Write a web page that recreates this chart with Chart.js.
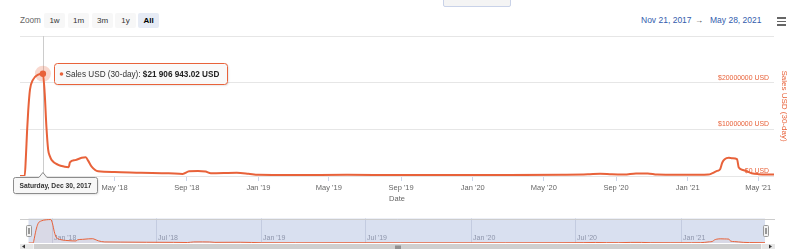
<!DOCTYPE html>
<html>
<head>
<meta charset="utf-8">
<script src="https://cdn.jsdelivr.net/npm/chart.js@4.4.0/dist/chart.umd.min.js"></script>
<style>
  html, body { margin: 0; padding: 0; background: #fff; }
  body { width: 800px; height: 249px; position: relative; overflow: hidden; font-family: "Liberation Sans", Arial, sans-serif; }
  #main { position: absolute; left: 0; top: 0; }
  #nav { position: absolute; left: 0; top: 210px; }
  .zoom-label { position: absolute; left: 20px; top: 13px; height: 15px; line-height: 15px; font-size: 8.2px; color: #666; }
  .btn { position: absolute; top: 13px; height: 15px; line-height: 15px; background: #f7f7f7; color: #333; font-size: 8px; text-align: center; border-radius: 2px; }
  .btn.on { background: #e6ebf5; font-weight: bold; color: #000; }
  .range { position: absolute; top: 14px; height: 13px; line-height: 13px; font-size: 8.5px; color: #335cad; }
  .arrow { position: absolute; top: 14px; height: 13px; line-height: 13px; font-size: 8px; color: #333; }
  .menu { position: absolute; left: 777px; width: 9px; height: 1.5px; background: #666; }
  .topbox { position: absolute; left: 443px; top: -3px; width: 66px; height: 8px; background: #f4f4f4; border: 1px solid #c9d2e8; border-radius: 2px; }
</style>
</head>
<body>
<div class="topbox"></div>
<div class="zoom-label">Zoom</div>
<div class="btn" style="left:44px;width:21px">1w</div>
<div class="btn" style="left:68px;width:21px">1m</div>
<div class="btn" style="left:92px;width:21px">3m</div>
<div class="btn" style="left:115px;width:21px">1y</div>
<div class="btn on" style="left:138px;width:21px">All</div>
<div class="range" style="left:641px">Nov 21, 2017</div>
<div class="arrow" style="left:695px">→</div>
<div class="range" style="left:710px">May 28, 2021</div>
<div class="menu" style="top:17px"></div>
<div class="menu" style="top:20.5px"></div>
<div class="menu" style="top:24px"></div>
<canvas id="main" width="800" height="210"></canvas>
<canvas id="nav" width="800" height="39"></canvas>
<script>
// series: 30-day sales in USD
const dates = [
  '2017-11-21', '2017-11-29', '2017-12-01', '2017-12-03', '2017-12-05', '2017-12-08',
  '2017-12-13', '2017-12-22', '2017-12-30', '2018-01-02', '2018-01-05', '2018-01-08',
  '2018-01-11', '2018-01-14', '2018-01-25', '2018-02-05', '2018-02-12', '2018-02-14',
  '2018-02-23', '2018-03-06', '2018-03-13', '2018-03-17', '2018-03-23', '2018-04-03',
  '2018-05-01', '2018-06-15', '2018-08-01', '2018-08-25', '2018-09-05', '2018-09-20',
  '2018-10-03', '2018-10-12', '2018-11-25', '2018-12-15', '2019-01-01', '2019-03-01',
  '2019-06-01', '2019-09-01', '2019-12-01', '2020-03-01', '2020-06-01', '2020-07-15',
  '2020-08-05', '2020-08-25', '2020-09-15', '2020-10-05', '2020-10-25', '2020-11-10',
  '2020-12-15', '2021-01-20', '2021-02-05', '2021-02-12', '2021-02-20', '2021-02-25',
  '2021-03-01', '2021-03-05', '2021-03-12', '2021-03-18', '2021-03-26', '2021-03-29',
  '2021-04-05', '2021-04-12', '2021-04-20', '2021-05-01', '2021-05-28'
];
const sales = [
  0, 0, 4000000, 9500000, 14000000, 18500000,
  20600000, 21700000, 21906943.02, 17800000, 10500000, 5600000,
  4200000, 3400000, 2400000, 2000000, 1900000, 2900000,
  3400000, 3900000, 4000000, 3300000, 2000000, 1000000,
  850000, 700000, 600000, 450000, 1000000, 1050000,
  950000, 600000, 700000, 500000, 250000, 200000,
  250000, 200000, 200000, 200000, 250000, 350000,
  500000, 350000, 300000, 550000, 550000, 300000,
  250000, 250000, 300000, 600000, 1100000, 1400000,
  2900000, 3600000, 3900000, 3800000, 3600000, 1800000,
  1300000, 1000000, 600000, 400000, 300000
];

// axis ticks
const xTickDates = ['2018-05-01', '2018-09-01', '2019-01-01', '2019-05-01', '2019-09-01',
  '2020-01-01', '2020-05-01', '2020-09-01', '2021-01-01', '2021-05-01'];
const xTickLabels = ["May '18", "Sep '18", "Jan '19", "May '19", "Sep '19",
  "Jan '20", "May '20", "Sep '20", "Jan '21", "May '21"];
const yTicks = [0, 10000000, 20000000, 30000000];
const yTickLabels = ['$0 USD', '$10000000 USD', '$20000000 USD', ''];
const navTickDates = ['2018-01-01', '2018-07-01', '2019-01-01', '2019-07-01', '2020-01-01', '2020-07-01', '2021-01-01'];
const navTickLabels = ["Jan '18", "Jul '18", "Jan '19", "Jul '19", "Jan '20", "Jul '20", "Jan '21"];

const startDate = '2017-11-21';
const endDate = '2021-05-28';
const hoverDate = '2017-12-30';
const hoverLabel = 'Saturday, Dec 30, 2017';
const seriesName = 'Sales USD (30-day)';
const hoverValueText = '$21 906 943.02 USD';

const ORANGE = '#e8623a';
const FONT = '"Liberation Sans", Arial, sans-serif';
Chart.defaults.font.family = FONT;

const t = d => Date.parse(d + 'T00:00:00Z');
const points = dates.map((d, i) => ({ x: t(d), y: sales[i] }));

function roundRect(ctx, x, y, w, h, r) {
  ctx.beginPath();
  ctx.moveTo(x + r, y);
  ctx.lineTo(x + w - r, y);
  ctx.arcTo(x + w, y, x + w, y + r, r);
  ctx.lineTo(x + w, y + h - r);
  ctx.arcTo(x + w, y + h, x + w - r, y + h, r);
  ctx.lineTo(x + r, y + h);
  ctx.arcTo(x, y + h, x, y + h - r, r);
  ctx.lineTo(x, y + r);
  ctx.arcTo(x, y, x + r, y, r);
  ctx.closePath();
}

// crosshair + tooltip for the hovered day
const hoverPlugin = {
  id: 'hover',
  beforeDatasetsDraw(chart) {
    const { ctx, chartArea, scales: { x } } = chart;
    const px = Math.round(x.getPixelForValue(t(hoverDate))) + 0.5;
    ctx.save();
    ctx.strokeStyle = '#cccccc';
    ctx.lineWidth = 1;
    ctx.beginPath();
    ctx.moveTo(px, chartArea.top);
    ctx.lineTo(px, chartArea.bottom);
    ctx.stroke();
    ctx.restore();
  },
  afterDraw(chart) {
    const { ctx, chartArea, scales: { x, y } } = chart;
    const idx = dates.indexOf(hoverDate);
    const px = x.getPixelForValue(t(hoverDate));
    const py = y.getPixelForValue(sales[idx]);
    ctx.save();

    // halo + marker
    ctx.fillStyle = 'rgba(232,98,58,0.25)';
    ctx.beginPath(); ctx.arc(px, py, 8, 0, Math.PI * 2); ctx.fill();
    ctx.fillStyle = ORANGE;
    ctx.beginPath(); ctx.arc(px, py, 3.2, 0, Math.PI * 2); ctx.fill();

    // value tooltip
    const fontReg = '8.2px ' + FONT;
    const fontBold = 'bold 8.2px ' + FONT;
    ctx.font = fontReg;
    const w1 = ctx.measureText(seriesName + ': ').width;
    ctx.font = fontBold;
    const w2 = ctx.measureText(hoverValueText).width;
    const bx = Math.round(px + 11) + 0.5;
    const by = Math.round(py - 11) + 0.5;
    const bw = Math.round(11 + w1 + w2 + 8);
    const bh = 21;
    ctx.shadowColor = 'rgba(0,0,0,0.15)';
    ctx.shadowOffsetX = 1;
    ctx.shadowOffsetY = 1;
    ctx.shadowBlur = 2;
    roundRect(ctx, bx, by, bw, bh, 3);
    ctx.fillStyle = 'rgba(250,250,250,0.95)';
    ctx.fill();
    ctx.shadowColor = 'transparent';
    ctx.strokeStyle = ORANGE;
    ctx.lineWidth = 1;
    ctx.stroke();
    ctx.fillStyle = ORANGE;
    ctx.beginPath(); ctx.arc(bx + 7, by + bh / 2, 1.8, 0, Math.PI * 2); ctx.fill();
    ctx.textBaseline = 'middle';
    ctx.textAlign = 'left';
    ctx.fillStyle = '#333';
    ctx.font = fontReg;
    ctx.fillText(seriesName + ': ', bx + 11, by + bh / 2 + 0.5);
    ctx.font = fontBold;
    ctx.fillStyle = '#222';
    ctx.fillText(hoverValueText, bx + 11 + w1, by + bh / 2 + 0.5);

    // date label under the axis
    const fontDate = 'bold 6.7px ' + FONT;
    ctx.font = fontDate;
    const dw = Math.round(ctx.measureText(hoverLabel).width + 12);
    const dh = 16;
    const dx = Math.max(13, Math.round(px - dw / 2)) + 0.5;
    const dy = Math.round(chartArea.bottom) + 1.5;
    ctx.shadowColor = 'rgba(0,0,0,0.15)';
    ctx.shadowOffsetX = 1;
    ctx.shadowOffsetY = 1;
    ctx.shadowBlur = 2;
    ctx.beginPath();
    ctx.moveTo(dx + 2, dy);
    ctx.lineTo(px - 4, dy);
    ctx.lineTo(px, dy - 5);
    ctx.lineTo(px + 4, dy);
    ctx.lineTo(dx + dw - 2, dy);
    ctx.arcTo(dx + dw, dy, dx + dw, dy + 2, 2);
    ctx.lineTo(dx + dw, dy + dh - 2);
    ctx.arcTo(dx + dw, dy + dh, dx + dw - 2, dy + dh, 2);
    ctx.lineTo(dx + 2, dy + dh);
    ctx.arcTo(dx, dy + dh, dx, dy + dh - 2, 2);
    ctx.lineTo(dx, dy + 2);
    ctx.arcTo(dx, dy, dx + 2, dy, 2);
    ctx.closePath();
    ctx.fillStyle = '#f7f7f7';
    ctx.fill();
    ctx.shadowColor = 'transparent';
    ctx.strokeStyle = '#8c8c8c';
    ctx.stroke();
    ctx.fillStyle = '#333';
    ctx.textAlign = 'center';
    ctx.fillText(hoverLabel, dx + dw / 2, dy + dh / 2 + 0.5);
    ctx.restore();
  }
};

new Chart(document.getElementById('main'), {
  type: 'line',
  data: {
    datasets: [{
      label: seriesName,
      data: points,
      borderColor: ORANGE,
      borderWidth: 2,
      pointRadius: 0,
      cubicInterpolationMode: 'monotone',
      fill: false
    }]
  },
  options: {
    responsive: false,
    animation: false,
    layout: { padding: { left: 20, top: 36, right: 0, bottom: 0 } },
    plugins: { legend: { display: false }, tooltip: { enabled: false } },
    scales: {
      x: {
        type: 'linear',
        min: t(startDate),
        max: t(endDate),
        afterBuildTicks: s => { s.ticks = xTickDates.map(d => ({ value: t(d) })); },
        afterFit: s => { s.height = 34; },
        ticks: {
          autoSkip: false, maxRotation: 0, color: '#666', padding: 2,
          font: { size: 7.5 },
          callback: (v, i) => xTickLabels[i]
        },
        grid: { drawOnChartArea: false, tickLength: 5, color: '#ccd6eb' },
        border: { display: false },
        title: { display: true, text: 'Date', color: '#666', font: { size: 7.5 }, padding: { top: 0, bottom: 6.6 } }
      },
      y: {
        position: 'right',
        min: 0,
        max: 30000000,
        afterBuildTicks: s => { s.ticks = yTicks.map(v => ({ value: v })); },
        afterFit: s => { s.width = 26; },
        ticks: {
          mirror: true, padding: -5, labelOffset: -5, color: ORANGE,
          font: { size: 6.9 },
          callback: (v, i) => yTickLabels[i]
        },
        grid: { color: '#e6e6e6', drawTicks: false },
        border: { display: false },
        title: { display: true, text: seriesName, color: ORANGE, font: { size: 8 }, padding: { top: 11.3 } }
      }
    }
  },
  plugins: [hoverPlugin]
});

// navigator: mask, grid, labels, handles, scrollbar
const navPlugin = {
  id: 'navigator',
  beforeDatasetsDraw(chart) {
    const { ctx, chartArea, scales: { x } } = chart;
    ctx.save();
    ctx.fillStyle = '#d9e0f0';
    ctx.fillRect(chartArea.left, chartArea.top, chartArea.right - chartArea.left, chartArea.bottom - chartArea.top);
    ctx.strokeStyle = '#c3cbe0';
    ctx.lineWidth = 1;
    ctx.font = '7px ' + FONT;
    ctx.fillStyle = '#8e95ab';
    ctx.textBaseline = 'middle';
    ctx.textAlign = 'left';
    navTickDates.forEach((d, i) => {
      const px = Math.round(x.getPixelForValue(t(d))) + 0.5;
      ctx.beginPath();
      ctx.moveTo(px, chartArea.top);
      ctx.lineTo(px, chartArea.bottom);
      ctx.stroke();
      ctx.fillText(navTickLabels[i], px + 1.5, 28);
    });
    ctx.strokeStyle = '#cccccc';
    ctx.beginPath();
    ctx.moveTo(20, Math.round(chartArea.top) + 0.5);
    ctx.lineTo(775, Math.round(chartArea.top) + 0.5);
    ctx.stroke();
    ctx.restore();
  },
  afterDraw(chart) {
    const { ctx, chartArea } = chart;
    ctx.save();
    // handles
    [chartArea.left, chartArea.right].forEach(hx => {
      const x0 = Math.round(hx - 2.5) + 0.5;
      roundRect(ctx, x0, 15.5, 5, 11, 1);
      ctx.fillStyle = '#f2f2f2';
      ctx.fill();
      ctx.strokeStyle = '#999';
      ctx.lineWidth = 1;
      ctx.stroke();
      ctx.beginPath();
      ctx.moveTo(x0 + 2, 18); ctx.lineTo(x0 + 2, 24);
      ctx.moveTo(x0 + 3, 18); ctx.lineTo(x0 + 3, 24);
      ctx.stroke();
    });
    // scrollbar
    ctx.fillStyle = '#f2f2f2';
    ctx.fillRect(20, 34, 755, 6);
    ctx.fillStyle = '#cfcfcf';
    ctx.fillRect(34, 34, 727, 6);
    ctx.fillStyle = '#e6e6e6';
    ctx.fillRect(20, 34, 13, 6);
    ctx.fillRect(762, 34, 13, 6);
    ctx.fillStyle = '#333';
    ctx.beginPath();
    ctx.moveTo(22, 36.5); ctx.lineTo(25, 34.5); ctx.lineTo(25, 38.5); ctx.closePath(); ctx.fill();
    ctx.beginPath();
    ctx.moveTo(772, 36.5); ctx.lineTo(769, 34.5); ctx.lineTo(769, 38.5); ctx.closePath(); ctx.fill();
    ctx.strokeStyle = '#333';
    ctx.lineWidth = 0.8;
    ctx.beginPath();
    [-2, 0, 2].forEach(o => { ctx.moveTo(398 + o, 35.5); ctx.lineTo(398 + o, 39); });
    ctx.stroke();
    ctx.restore();
  }
};

new Chart(document.getElementById('nav'), {
  type: 'line',
  data: {
    datasets: [{
      data: points,
      borderColor: ORANGE,
      borderWidth: 1,
      pointRadius: 0,
      cubicInterpolationMode: 'monotone',
      fill: true,
      backgroundColor: 'rgba(232,98,58,0.05)'
    }]
  },
  options: {
    responsive: false,
    animation: false,
    layout: { padding: { left: 28.5, right: 35, top: 8.5, bottom: 6 } },
    plugins: { legend: { display: false }, tooltip: { enabled: false } },
    scales: {
      x: { type: 'linear', display: false, min: t(startDate), max: t(endDate) },
      y: { display: false, min: 0, max: 22900000 }
    }
  },
  plugins: [navPlugin]
});
</script>
</body>
</html>
